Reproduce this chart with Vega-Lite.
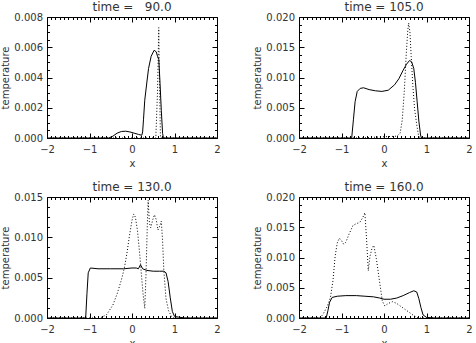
{
  "$schema": "https://vega.github.io/schema/vega-lite/v6.json",
  "padding": {"left": 0, "top": 0, "right": 5, "bottom": 0},
  "config": {
    "font": "DejaVu Sans",
    "view": {"stroke": "#000", "strokeWidth": 1},
    "axis": {"labelFontSize": 10, "titleFontSize": 10, "titleFontWeight": "normal", "labelColor": "#333", "titleColor": "#333", "grid": false, "domain": false, "tickColor": "#000", "tickWidth": 1, "labelFlush": false, "labelOverlap": false},
    "title": {"fontSize": 12, "fontWeight": "normal", "color": "#333", "offset": -2}
  },
  "data": {"values": [
    {"time": 90, "series": "solid", "x": -2, "temperature": 0},
    {"time": 90, "series": "solid", "x": -0.55, "temperature": 0},
    {"time": 90, "series": "solid", "x": -0.45, "temperature": 0.00012},
    {"time": 90, "series": "solid", "x": -0.35, "temperature": 0.00032},
    {"time": 90, "series": "solid", "x": -0.25, "temperature": 0.00043},
    {"time": 90, "series": "solid", "x": -0.15, "temperature": 0.00045},
    {"time": 90, "series": "solid", "x": -0.05, "temperature": 0.0004},
    {"time": 90, "series": "solid", "x": 0.05, "temperature": 0.00032},
    {"time": 90, "series": "solid", "x": 0.15, "temperature": 0.00024},
    {"time": 90, "series": "solid", "x": 0.23, "temperature": 0.00018},
    {"time": 90, "series": "solid", "x": 0.25, "temperature": 0.0004},
    {"time": 90, "series": "solid", "x": 0.27, "temperature": 0.0012},
    {"time": 90, "series": "solid", "x": 0.3, "temperature": 0.0025},
    {"time": 90, "series": "solid", "x": 0.35, "temperature": 0.0037},
    {"time": 90, "series": "solid", "x": 0.39, "temperature": 0.0046},
    {"time": 90, "series": "solid", "x": 0.45, "temperature": 0.0054},
    {"time": 90, "series": "solid", "x": 0.52, "temperature": 0.0058},
    {"time": 90, "series": "solid", "x": 0.57, "temperature": 0.0057},
    {"time": 90, "series": "solid", "x": 0.6, "temperature": 0.0054},
    {"time": 90, "series": "solid", "x": 0.63, "temperature": 0.0052},
    {"time": 90, "series": "solid", "x": 0.66, "temperature": 0.0036},
    {"time": 90, "series": "solid", "x": 0.69, "temperature": 0.0018},
    {"time": 90, "series": "solid", "x": 0.72, "temperature": 0.0003},
    {"time": 90, "series": "solid", "x": 0.74, "temperature": 0},
    {"time": 90, "series": "solid", "x": 2, "temperature": 0},
    {"time": 90, "series": "dotted", "x": -2, "temperature": 0},
    {"time": 90, "series": "dotted", "x": 0.56, "temperature": 0},
    {"time": 90, "series": "dotted", "x": 0.6, "temperature": 0.003},
    {"time": 90, "series": "dotted", "x": 0.63, "temperature": 0.0073},
    {"time": 90, "series": "dotted", "x": 0.65, "temperature": 0.003},
    {"time": 90, "series": "dotted", "x": 0.67, "temperature": 0},
    {"time": 90, "series": "dotted", "x": 2, "temperature": 0},

    {"time": 105, "series": "solid", "x": -2, "temperature": 0},
    {"time": 105, "series": "solid", "x": -0.76, "temperature": 0},
    {"time": 105, "series": "solid", "x": -0.72, "temperature": 0.003},
    {"time": 105, "series": "solid", "x": -0.68, "temperature": 0.006},
    {"time": 105, "series": "solid", "x": -0.63, "temperature": 0.0077},
    {"time": 105, "series": "solid", "x": -0.56, "temperature": 0.0082},
    {"time": 105, "series": "solid", "x": -0.48, "temperature": 0.0083},
    {"time": 105, "series": "solid", "x": -0.35, "temperature": 0.008},
    {"time": 105, "series": "solid", "x": -0.2, "temperature": 0.0078},
    {"time": 105, "series": "solid", "x": -0.05, "temperature": 0.0077},
    {"time": 105, "series": "solid", "x": 0.1, "temperature": 0.0079},
    {"time": 105, "series": "solid", "x": 0.25, "temperature": 0.0088},
    {"time": 105, "series": "solid", "x": 0.35, "temperature": 0.0098},
    {"time": 105, "series": "solid", "x": 0.45, "temperature": 0.0112},
    {"time": 105, "series": "solid", "x": 0.53, "temperature": 0.0122},
    {"time": 105, "series": "solid", "x": 0.6, "temperature": 0.0128},
    {"time": 105, "series": "solid", "x": 0.65, "temperature": 0.0126},
    {"time": 105, "series": "solid", "x": 0.7, "temperature": 0.0115},
    {"time": 105, "series": "solid", "x": 0.74, "temperature": 0.0092},
    {"time": 105, "series": "solid", "x": 0.78, "temperature": 0.006},
    {"time": 105, "series": "solid", "x": 0.82, "temperature": 0.0028},
    {"time": 105, "series": "solid", "x": 0.86, "temperature": 0.0005},
    {"time": 105, "series": "solid", "x": 0.88, "temperature": 0},
    {"time": 105, "series": "solid", "x": 2, "temperature": 0},
    {"time": 105, "series": "dotted", "x": -2, "temperature": 0},
    {"time": 105, "series": "dotted", "x": -0.5, "temperature": 0},
    {"time": 105, "series": "dotted", "x": -0.3, "temperature": 0.0001},
    {"time": 105, "series": "dotted", "x": 0, "temperature": 0.0002},
    {"time": 105, "series": "dotted", "x": 0.3, "temperature": 0.0003},
    {"time": 105, "series": "dotted", "x": 0.38, "temperature": 0.0008},
    {"time": 105, "series": "dotted", "x": 0.43, "temperature": 0.003},
    {"time": 105, "series": "dotted", "x": 0.48, "temperature": 0.008},
    {"time": 105, "series": "dotted", "x": 0.52, "temperature": 0.0135},
    {"time": 105, "series": "dotted", "x": 0.56, "temperature": 0.0178},
    {"time": 105, "series": "dotted", "x": 0.58, "temperature": 0.019},
    {"time": 105, "series": "dotted", "x": 0.61, "temperature": 0.0175},
    {"time": 105, "series": "dotted", "x": 0.64, "temperature": 0.0135},
    {"time": 105, "series": "dotted", "x": 0.68, "temperature": 0.0085},
    {"time": 105, "series": "dotted", "x": 0.72, "temperature": 0.0048},
    {"time": 105, "series": "dotted", "x": 0.77, "temperature": 0.0022},
    {"time": 105, "series": "dotted", "x": 0.81, "temperature": 0.0005},
    {"time": 105, "series": "dotted", "x": 0.84, "temperature": 0},
    {"time": 105, "series": "dotted", "x": 2, "temperature": 0},

    {"time": 130, "series": "solid", "x": -2, "temperature": 0},
    {"time": 130, "series": "solid", "x": -1.09, "temperature": 0},
    {"time": 130, "series": "solid", "x": -1.06, "temperature": 0.003},
    {"time": 130, "series": "solid", "x": -1.03, "temperature": 0.0056},
    {"time": 130, "series": "solid", "x": -0.98, "temperature": 0.0062},
    {"time": 130, "series": "solid", "x": -0.8, "temperature": 0.0061},
    {"time": 130, "series": "solid", "x": -0.5, "temperature": 0.0061},
    {"time": 130, "series": "solid", "x": -0.2, "temperature": 0.0061},
    {"time": 130, "series": "solid", "x": 0, "temperature": 0.0062},
    {"time": 130, "series": "solid", "x": 0.1, "temperature": 0.0062},
    {"time": 130, "series": "solid", "x": 0.15, "temperature": 0.0061},
    {"time": 130, "series": "solid", "x": 0.2, "temperature": 0.0066},
    {"time": 130, "series": "solid", "x": 0.25, "temperature": 0.0061},
    {"time": 130, "series": "solid", "x": 0.35, "temperature": 0.0059},
    {"time": 130, "series": "solid", "x": 0.5, "temperature": 0.0058},
    {"time": 130, "series": "solid", "x": 0.65, "temperature": 0.0058},
    {"time": 130, "series": "solid", "x": 0.75, "temperature": 0.0058},
    {"time": 130, "series": "solid", "x": 0.8, "temperature": 0.0056},
    {"time": 130, "series": "solid", "x": 0.85, "temperature": 0.0045},
    {"time": 130, "series": "solid", "x": 0.9, "temperature": 0.0025},
    {"time": 130, "series": "solid", "x": 0.95, "temperature": 0.0008},
    {"time": 130, "series": "solid", "x": 1.0, "temperature": 0.0002},
    {"time": 130, "series": "solid", "x": 1.1, "temperature": 0.0001},
    {"time": 130, "series": "solid", "x": 1.25, "temperature": 0},
    {"time": 130, "series": "solid", "x": 2, "temperature": 0},
    {"time": 130, "series": "dotted", "x": -2, "temperature": 0},
    {"time": 130, "series": "dotted", "x": -0.75, "temperature": 0},
    {"time": 130, "series": "dotted", "x": -0.6, "temperature": 0.0004},
    {"time": 130, "series": "dotted", "x": -0.45, "temperature": 0.0016},
    {"time": 130, "series": "dotted", "x": -0.35, "temperature": 0.003},
    {"time": 130, "series": "dotted", "x": -0.25, "temperature": 0.0047},
    {"time": 130, "series": "dotted", "x": -0.18, "temperature": 0.0062},
    {"time": 130, "series": "dotted", "x": -0.12, "temperature": 0.008},
    {"time": 130, "series": "dotted", "x": -0.06, "temperature": 0.0102},
    {"time": 130, "series": "dotted", "x": 0, "temperature": 0.0121},
    {"time": 130, "series": "dotted", "x": 0.04, "temperature": 0.0129},
    {"time": 130, "series": "dotted", "x": 0.08, "temperature": 0.0125},
    {"time": 130, "series": "dotted", "x": 0.13, "temperature": 0.0108},
    {"time": 130, "series": "dotted", "x": 0.18, "temperature": 0.008},
    {"time": 130, "series": "dotted", "x": 0.22, "temperature": 0.0055},
    {"time": 130, "series": "dotted", "x": 0.26, "temperature": 0.003},
    {"time": 130, "series": "dotted", "x": 0.3, "temperature": 0.0012},
    {"time": 130, "series": "dotted", "x": 0.33, "temperature": 0.0055},
    {"time": 130, "series": "dotted", "x": 0.36, "temperature": 0.0115},
    {"time": 130, "series": "dotted", "x": 0.38, "temperature": 0.0146},
    {"time": 130, "series": "dotted", "x": 0.41, "temperature": 0.0118},
    {"time": 130, "series": "dotted", "x": 0.44, "temperature": 0.0112},
    {"time": 130, "series": "dotted", "x": 0.49, "temperature": 0.0122},
    {"time": 130, "series": "dotted", "x": 0.53, "temperature": 0.0128},
    {"time": 130, "series": "dotted", "x": 0.57, "temperature": 0.0122},
    {"time": 130, "series": "dotted", "x": 0.61, "temperature": 0.0109},
    {"time": 130, "series": "dotted", "x": 0.66, "temperature": 0.0115},
    {"time": 130, "series": "dotted", "x": 0.69, "temperature": 0.012},
    {"time": 130, "series": "dotted", "x": 0.72, "temperature": 0.0095},
    {"time": 130, "series": "dotted", "x": 0.75, "temperature": 0.0058},
    {"time": 130, "series": "dotted", "x": 0.8, "temperature": 0.0024},
    {"time": 130, "series": "dotted", "x": 0.86, "temperature": 0.0009},
    {"time": 130, "series": "dotted", "x": 0.93, "temperature": 0.0002},
    {"time": 130, "series": "dotted", "x": 1.0, "temperature": 0},
    {"time": 130, "series": "dotted", "x": 2, "temperature": 0},

    {"time": 160, "series": "solid", "x": -2, "temperature": 0},
    {"time": 160, "series": "solid", "x": -1.36, "temperature": 0},
    {"time": 160, "series": "solid", "x": -1.32, "temperature": 0.0012},
    {"time": 160, "series": "solid", "x": -1.28, "temperature": 0.0026},
    {"time": 160, "series": "solid", "x": -1.22, "temperature": 0.0034},
    {"time": 160, "series": "solid", "x": -1.1, "temperature": 0.0036},
    {"time": 160, "series": "solid", "x": -0.9, "temperature": 0.0037},
    {"time": 160, "series": "solid", "x": -0.65, "temperature": 0.0037},
    {"time": 160, "series": "solid", "x": -0.45, "temperature": 0.0036},
    {"time": 160, "series": "solid", "x": -0.25, "temperature": 0.0035},
    {"time": 160, "series": "solid", "x": -0.1, "temperature": 0.0033},
    {"time": 160, "series": "solid", "x": 0, "temperature": 0.0031},
    {"time": 160, "series": "solid", "x": 0.15, "temperature": 0.0031},
    {"time": 160, "series": "solid", "x": 0.3, "temperature": 0.0033},
    {"time": 160, "series": "solid", "x": 0.45, "temperature": 0.0037},
    {"time": 160, "series": "solid", "x": 0.6, "temperature": 0.0042},
    {"time": 160, "series": "solid", "x": 0.7, "temperature": 0.0045},
    {"time": 160, "series": "solid", "x": 0.77, "temperature": 0.0043},
    {"time": 160, "series": "solid", "x": 0.82, "temperature": 0.0032},
    {"time": 160, "series": "solid", "x": 0.87, "temperature": 0.0017},
    {"time": 160, "series": "solid", "x": 0.92, "temperature": 0.0005},
    {"time": 160, "series": "solid", "x": 1.0, "temperature": 0.0001},
    {"time": 160, "series": "solid", "x": 1.2, "temperature": 0},
    {"time": 160, "series": "solid", "x": 2, "temperature": 0},
    {"time": 160, "series": "dotted", "x": -2, "temperature": 0},
    {"time": 160, "series": "dotted", "x": -1.5, "temperature": 0},
    {"time": 160, "series": "dotted", "x": -1.42, "temperature": 0.0008},
    {"time": 160, "series": "dotted", "x": -1.33, "temperature": 0.002},
    {"time": 160, "series": "dotted", "x": -1.26, "temperature": 0.0034},
    {"time": 160, "series": "dotted", "x": -1.2, "temperature": 0.0062},
    {"time": 160, "series": "dotted", "x": -1.15, "temperature": 0.0102},
    {"time": 160, "series": "dotted", "x": -1.1, "temperature": 0.0124},
    {"time": 160, "series": "dotted", "x": -1.05, "temperature": 0.0132},
    {"time": 160, "series": "dotted", "x": -1.0, "temperature": 0.0128},
    {"time": 160, "series": "dotted", "x": -0.95, "temperature": 0.0122},
    {"time": 160, "series": "dotted", "x": -0.9, "temperature": 0.0125},
    {"time": 160, "series": "dotted", "x": -0.82, "temperature": 0.0139},
    {"time": 160, "series": "dotted", "x": -0.73, "temperature": 0.0153},
    {"time": 160, "series": "dotted", "x": -0.65, "temperature": 0.0156},
    {"time": 160, "series": "dotted", "x": -0.57, "temperature": 0.0158},
    {"time": 160, "series": "dotted", "x": -0.5, "temperature": 0.0166},
    {"time": 160, "series": "dotted", "x": -0.45, "temperature": 0.0174},
    {"time": 160, "series": "dotted", "x": -0.41, "temperature": 0.013},
    {"time": 160, "series": "dotted", "x": -0.37, "temperature": 0.0078},
    {"time": 160, "series": "dotted", "x": -0.33, "temperature": 0.0102},
    {"time": 160, "series": "dotted", "x": -0.28, "temperature": 0.0116},
    {"time": 160, "series": "dotted", "x": -0.24, "temperature": 0.012},
    {"time": 160, "series": "dotted", "x": -0.18, "temperature": 0.0098},
    {"time": 160, "series": "dotted", "x": -0.1, "temperature": 0.0058},
    {"time": 160, "series": "dotted", "x": -0.04, "temperature": 0.0028},
    {"time": 160, "series": "dotted", "x": 0.02, "temperature": 0.002},
    {"time": 160, "series": "dotted", "x": 0.1, "temperature": 0.0024},
    {"time": 160, "series": "dotted", "x": 0.2, "temperature": 0.0027},
    {"time": 160, "series": "dotted", "x": 0.3, "temperature": 0.0024},
    {"time": 160, "series": "dotted", "x": 0.4, "temperature": 0.0019},
    {"time": 160, "series": "dotted", "x": 0.5, "temperature": 0.0014},
    {"time": 160, "series": "dotted", "x": 0.6, "temperature": 0.0009},
    {"time": 160, "series": "dotted", "x": 0.7, "temperature": 0.0004},
    {"time": 160, "series": "dotted", "x": 0.8, "temperature": 0},
    {"time": 160, "series": "dotted", "x": 2, "temperature": 0}
  ]},
  "columns": 2,
  "spacing": {"row": 59, "column": 82},
  "bounds": "flush",
  "concat": [
    {
      "title": "time =\u00a0\u00a0\u00a090.0",
      "width": 170, "height": 121,
      "transform": [{"filter": "datum.time == 90"}],
      "resolve": {"axis": {"x": "independent", "y": "independent"}},
      "layer": [
        {
          "transform": [{"filter": "datum.series == 'solid'"}],
          "mark": {"type": "line", "color": "#000", "strokeWidth": 1},
          "encoding": {
            "x": {"field": "x", "type": "quantitative", "scale": {"domain": [-2, 2], "nice": false, "zero": false},
              "axis": {"orient": "bottom", "title": "x", "titlePadding": 2, "labelPadding": 11,
                "values": [-2,-1.9,-1.8,-1.7,-1.6,-1.5,-1.4,-1.3,-1.2,-1.1,-1,-0.9,-0.8,-0.7,-0.6,-0.5,-0.4,-0.3,-0.2,-0.1,0,0.1,0.2,0.3,0.4,0.5,0.6,0.7,0.8,0.9,1,1.1,1.2,1.3,1.4,1.5,1.6,1.7,1.8,1.9,2],
                "tickSize": {"condition": {"test": "abs(datum.value - round(datum.value)) < 1e-6", "value": -5}, "value": -2.5},
                "labelExpr": "abs(datum.value - round(datum.value)) < 1e-6 ? format(datum.value, 'd') : ''"}},
            "y": {"field": "temperature", "type": "quantitative", "scale": {"domain": [0, 0.008], "nice": false},
              "axis": {"orient": "left", "title": "temperature", "titlePadding": 3, "labelPadding": 9.5,
                "values": [0,0.0005,0.001,0.0015,0.002,0.0025,0.003,0.0035,0.004,0.0045,0.005,0.0055,0.006,0.0065,0.007,0.0075,0.008],
                "tickSize": {"condition": {"test": "abs(datum.value / 0.002 - round(datum.value / 0.002)) < 1e-6", "value": -5}, "value": -2.5},
                "labelExpr": "abs(datum.value / 0.002 - round(datum.value / 0.002)) < 1e-6 ? format(datum.value, '.3f') : ''"}}
          }
        },
        {
          "transform": [{"filter": "datum.series == 'dotted'"}],
          "mark": {"type": "line", "color": "#000", "strokeWidth": 1, "strokeDash": [1, 2]},
          "encoding": {
            "x": {"field": "x", "type": "quantitative",
              "axis": {"orient": "top", "title": null, "labels": false,
                "values": [-2,-1.9,-1.8,-1.7,-1.6,-1.5,-1.4,-1.3,-1.2,-1.1,-1,-0.9,-0.8,-0.7,-0.6,-0.5,-0.4,-0.3,-0.2,-0.1,0,0.1,0.2,0.3,0.4,0.5,0.6,0.7,0.8,0.9,1,1.1,1.2,1.3,1.4,1.5,1.6,1.7,1.8,1.9,2],
                "tickSize": {"condition": {"test": "abs(datum.value - round(datum.value)) < 1e-6", "value": -5}, "value": -2.5}}},
            "y": {"field": "temperature", "type": "quantitative",
              "axis": {"orient": "right", "title": null, "labels": false,
                "values": [0,0.0005,0.001,0.0015,0.002,0.0025,0.003,0.0035,0.004,0.0045,0.005,0.0055,0.006,0.0065,0.007,0.0075,0.008],
                "tickSize": {"condition": {"test": "abs(datum.value / 0.002 - round(datum.value / 0.002)) < 1e-6", "value": -5}, "value": -2.5}}}
          }
        }
      ]
    },
    {
      "title": "time = 105.0",
      "width": 170, "height": 121,
      "transform": [{"filter": "datum.time == 105"}],
      "resolve": {"axis": {"x": "independent", "y": "independent"}},
      "layer": [
        {
          "transform": [{"filter": "datum.series == 'solid'"}],
          "mark": {"type": "line", "color": "#000", "strokeWidth": 1},
          "encoding": {
            "x": {"field": "x", "type": "quantitative", "scale": {"domain": [-2, 2], "nice": false, "zero": false},
              "axis": {"orient": "bottom", "title": "x", "titlePadding": 2, "labelPadding": 11,
                "values": [-2,-1.9,-1.8,-1.7,-1.6,-1.5,-1.4,-1.3,-1.2,-1.1,-1,-0.9,-0.8,-0.7,-0.6,-0.5,-0.4,-0.3,-0.2,-0.1,0,0.1,0.2,0.3,0.4,0.5,0.6,0.7,0.8,0.9,1,1.1,1.2,1.3,1.4,1.5,1.6,1.7,1.8,1.9,2],
                "tickSize": {"condition": {"test": "abs(datum.value - round(datum.value)) < 1e-6", "value": -5}, "value": -2.5},
                "labelExpr": "abs(datum.value - round(datum.value)) < 1e-6 ? format(datum.value, 'd') : ''"}},
            "y": {"field": "temperature", "type": "quantitative", "scale": {"domain": [0, 0.02], "nice": false},
              "axis": {"orient": "left", "title": "temperature", "titlePadding": 3, "labelPadding": 9.5,
                "values": [0,0.00125,0.0025,0.00375,0.005,0.00625,0.0075,0.00875,0.01,0.01125,0.0125,0.01375,0.015,0.01625,0.0175,0.01875,0.02],
                "tickSize": {"condition": {"test": "abs(datum.value / 0.005 - round(datum.value / 0.005)) < 1e-6", "value": -5}, "value": -2.5},
                "labelExpr": "abs(datum.value / 0.005 - round(datum.value / 0.005)) < 1e-6 ? format(datum.value, '.3f') : ''"}}
          }
        },
        {
          "transform": [{"filter": "datum.series == 'dotted'"}],
          "mark": {"type": "line", "color": "#000", "strokeWidth": 1, "strokeDash": [1, 2]},
          "encoding": {
            "x": {"field": "x", "type": "quantitative",
              "axis": {"orient": "top", "title": null, "labels": false,
                "values": [-2,-1.9,-1.8,-1.7,-1.6,-1.5,-1.4,-1.3,-1.2,-1.1,-1,-0.9,-0.8,-0.7,-0.6,-0.5,-0.4,-0.3,-0.2,-0.1,0,0.1,0.2,0.3,0.4,0.5,0.6,0.7,0.8,0.9,1,1.1,1.2,1.3,1.4,1.5,1.6,1.7,1.8,1.9,2],
                "tickSize": {"condition": {"test": "abs(datum.value - round(datum.value)) < 1e-6", "value": -5}, "value": -2.5}}},
            "y": {"field": "temperature", "type": "quantitative",
              "axis": {"orient": "right", "title": null, "labels": false,
                "values": [0,0.00125,0.0025,0.00375,0.005,0.00625,0.0075,0.00875,0.01,0.01125,0.0125,0.01375,0.015,0.01625,0.0175,0.01875,0.02],
                "tickSize": {"condition": {"test": "abs(datum.value / 0.005 - round(datum.value / 0.005)) < 1e-6", "value": -5}, "value": -2.5}}}
          }
        }
      ]
    },
    {
      "title": "time = 130.0",
      "width": 170, "height": 121,
      "transform": [{"filter": "datum.time == 130"}],
      "resolve": {"axis": {"x": "independent", "y": "independent"}},
      "layer": [
        {
          "transform": [{"filter": "datum.series == 'solid'"}],
          "mark": {"type": "line", "color": "#000", "strokeWidth": 1},
          "encoding": {
            "x": {"field": "x", "type": "quantitative", "scale": {"domain": [-2, 2], "nice": false, "zero": false},
              "axis": {"orient": "bottom", "title": "x", "titlePadding": 2, "labelPadding": 11,
                "values": [-2,-1.9,-1.8,-1.7,-1.6,-1.5,-1.4,-1.3,-1.2,-1.1,-1,-0.9,-0.8,-0.7,-0.6,-0.5,-0.4,-0.3,-0.2,-0.1,0,0.1,0.2,0.3,0.4,0.5,0.6,0.7,0.8,0.9,1,1.1,1.2,1.3,1.4,1.5,1.6,1.7,1.8,1.9,2],
                "tickSize": {"condition": {"test": "abs(datum.value - round(datum.value)) < 1e-6", "value": -5}, "value": -2.5},
                "labelExpr": "abs(datum.value - round(datum.value)) < 1e-6 ? format(datum.value, 'd') : ''"}},
            "y": {"field": "temperature", "type": "quantitative", "scale": {"domain": [0, 0.015], "nice": false},
              "axis": {"orient": "left", "title": "temperature", "titlePadding": 3, "labelPadding": 9.5,
                "values": [0,0.00125,0.0025,0.00375,0.005,0.00625,0.0075,0.00875,0.01,0.01125,0.0125,0.01375,0.015],
                "tickSize": {"condition": {"test": "abs(datum.value / 0.005 - round(datum.value / 0.005)) < 1e-6", "value": -5}, "value": -2.5},
                "labelExpr": "abs(datum.value / 0.005 - round(datum.value / 0.005)) < 1e-6 ? format(datum.value, '.3f') : ''"}}
          }
        },
        {
          "transform": [{"filter": "datum.series == 'dotted'"}],
          "mark": {"type": "line", "color": "#000", "strokeWidth": 1, "strokeDash": [1, 2]},
          "encoding": {
            "x": {"field": "x", "type": "quantitative",
              "axis": {"orient": "top", "title": null, "labels": false,
                "values": [-2,-1.9,-1.8,-1.7,-1.6,-1.5,-1.4,-1.3,-1.2,-1.1,-1,-0.9,-0.8,-0.7,-0.6,-0.5,-0.4,-0.3,-0.2,-0.1,0,0.1,0.2,0.3,0.4,0.5,0.6,0.7,0.8,0.9,1,1.1,1.2,1.3,1.4,1.5,1.6,1.7,1.8,1.9,2],
                "tickSize": {"condition": {"test": "abs(datum.value - round(datum.value)) < 1e-6", "value": -5}, "value": -2.5}}},
            "y": {"field": "temperature", "type": "quantitative",
              "axis": {"orient": "right", "title": null, "labels": false,
                "values": [0,0.00125,0.0025,0.00375,0.005,0.00625,0.0075,0.00875,0.01,0.01125,0.0125,0.01375,0.015],
                "tickSize": {"condition": {"test": "abs(datum.value / 0.005 - round(datum.value / 0.005)) < 1e-6", "value": -5}, "value": -2.5}}}
          }
        }
      ]
    },
    {
      "title": "time = 160.0",
      "width": 170, "height": 121,
      "transform": [{"filter": "datum.time == 160"}],
      "resolve": {"axis": {"x": "independent", "y": "independent"}},
      "layer": [
        {
          "transform": [{"filter": "datum.series == 'solid'"}],
          "mark": {"type": "line", "color": "#000", "strokeWidth": 1},
          "encoding": {
            "x": {"field": "x", "type": "quantitative", "scale": {"domain": [-2, 2], "nice": false, "zero": false},
              "axis": {"orient": "bottom", "title": "x", "titlePadding": 2, "labelPadding": 11,
                "values": [-2,-1.9,-1.8,-1.7,-1.6,-1.5,-1.4,-1.3,-1.2,-1.1,-1,-0.9,-0.8,-0.7,-0.6,-0.5,-0.4,-0.3,-0.2,-0.1,0,0.1,0.2,0.3,0.4,0.5,0.6,0.7,0.8,0.9,1,1.1,1.2,1.3,1.4,1.5,1.6,1.7,1.8,1.9,2],
                "tickSize": {"condition": {"test": "abs(datum.value - round(datum.value)) < 1e-6", "value": -5}, "value": -2.5},
                "labelExpr": "abs(datum.value - round(datum.value)) < 1e-6 ? format(datum.value, 'd') : ''"}},
            "y": {"field": "temperature", "type": "quantitative", "scale": {"domain": [0, 0.02], "nice": false},
              "axis": {"orient": "left", "title": "temperature", "titlePadding": 3, "labelPadding": 9.5,
                "values": [0,0.00125,0.0025,0.00375,0.005,0.00625,0.0075,0.00875,0.01,0.01125,0.0125,0.01375,0.015,0.01625,0.0175,0.01875,0.02],
                "tickSize": {"condition": {"test": "abs(datum.value / 0.005 - round(datum.value / 0.005)) < 1e-6", "value": -5}, "value": -2.5},
                "labelExpr": "abs(datum.value / 0.005 - round(datum.value / 0.005)) < 1e-6 ? format(datum.value, '.3f') : ''"}}
          }
        },
        {
          "transform": [{"filter": "datum.series == 'dotted'"}],
          "mark": {"type": "line", "color": "#000", "strokeWidth": 1, "strokeDash": [1, 2]},
          "encoding": {
            "x": {"field": "x", "type": "quantitative",
              "axis": {"orient": "top", "title": null, "labels": false,
                "values": [-2,-1.9,-1.8,-1.7,-1.6,-1.5,-1.4,-1.3,-1.2,-1.1,-1,-0.9,-0.8,-0.7,-0.6,-0.5,-0.4,-0.3,-0.2,-0.1,0,0.1,0.2,0.3,0.4,0.5,0.6,0.7,0.8,0.9,1,1.1,1.2,1.3,1.4,1.5,1.6,1.7,1.8,1.9,2],
                "tickSize": {"condition": {"test": "abs(datum.value - round(datum.value)) < 1e-6", "value": -5}, "value": -2.5}}},
            "y": {"field": "temperature", "type": "quantitative",
              "axis": {"orient": "right", "title": null, "labels": false,
                "values": [0,0.00125,0.0025,0.00375,0.005,0.00625,0.0075,0.00875,0.01,0.01125,0.0125,0.01375,0.015,0.01625,0.0175,0.01875,0.02],
                "tickSize": {"condition": {"test": "abs(datum.value / 0.005 - round(datum.value / 0.005)) < 1e-6", "value": -5}, "value": -2.5}}}
          }
        }
      ]
    }
  ]
}
